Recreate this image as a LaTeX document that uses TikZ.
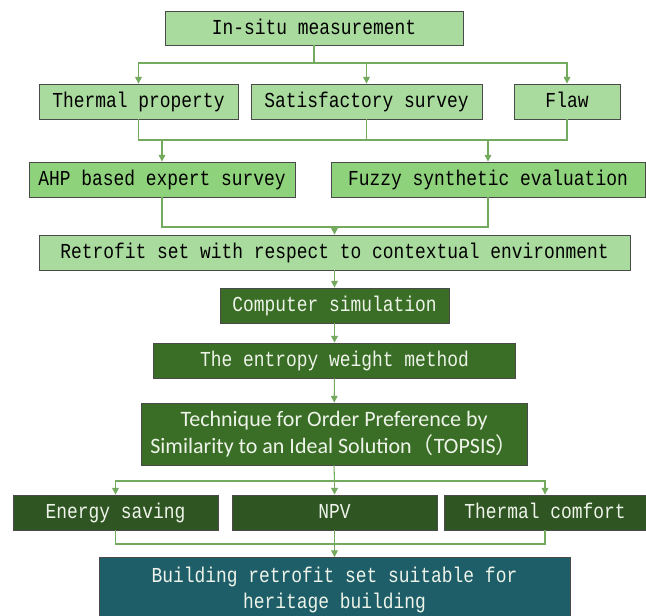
\documentclass[tikz,border=0pt]{standalone}
\usepackage{fontspec}
\newfontfamily\boxfont{Liberation Mono}[FakeStretch=0.84]
\newfontfamily\calfont{Carlito}
\newfontfamily\cjk{Noto Sans CJK SC}
\usetikzlibrary{arrows.meta}

\definecolor{flowPale}{HTML}{AADB9E}
\definecolor{flowLeaf}{HTML}{8FD27C}
\definecolor{flowMoss}{HTML}{3A6E26}
\definecolor{flowDeep}{HTML}{2F5522}
\definecolor{flowTeal}{HTML}{1E5E68}
\definecolor{flowLine}{HTML}{74AA5E}
\definecolor{flowEdge}{HTML}{4A4A4A}
\definecolor{flowInk}{HTML}{EEF4EA}

\begin{document}
\begin{tikzpicture}[x=0.75pt,y=-0.75pt,
  box/.style={draw=flowEdge,line width=0.6pt,inner sep=0pt,align=center,
    minimum height=26.25pt,font=\boxfont\fontsize{16pt}{19.5pt}\selectfont},
  one/.style={box,text height=11.5pt,text depth=2.5pt},
  pale/.style={one,fill=flowPale},
  leaf/.style={one,fill=flowLeaf},
  moss/.style={one,fill=flowMoss,text=flowInk},
  deep/.style={one,fill=flowDeep,text=flowInk},
  link/.style={draw=flowLine,line width=0.8pt},
  arr/.style={link,-{Triangle[width=5pt,length=5pt]}}]

  \useasboundingbox (0,0) rectangle (646,615);

  % Measurement stage
  \node[pale,minimum width=223.5pt,minimum height=25.5pt] (ins) at (314,28) {In-situ measurement};

  \node[pale,minimum width=149.25pt] (thp) at (138.5,101.5) {Thermal property};
  \node[pale,minimum width=173.25pt] (sat) at (366.5,101.5) {Satisfactory survey};
  \node[pale,minimum width=79.5pt] (flaw) at (567,101.5) {Flaw};

  % Evaluation methods
  \node[leaf,minimum width=199.5pt] (ahp) at (162,179.5) {AHP based expert survey};
  \node[leaf,minimum width=235.5pt] (fse) at (488,179.5) {Fuzzy synthetic evaluation};

  \node[pale,minimum width=443.25pt] (ret) at (334.5,252.5)
    {Retrofit set with respect to contextual environment};

  % Simulation and ranking
  \node[moss,minimum width=171.75pt] (sim) at (334.5,305.5) {Computer simulation};
  \node[moss,minimum width=271.5pt] (ewm) at (334.5,360.5) {The entropy weight method};
  \node[box,fill=flowMoss,text=flowInk,minimum width=289.5pt,minimum height=46.5pt,
    font=\calfont\fontsize{16.5pt}{20pt}\selectfont] (top) at (334,434)
    {Technique for Order Preference by\\
     Similarity to an Ideal Solution{\cjk （}TOPSIS{\cjk ）}};

  % Criteria
  \node[deep,minimum width=153.75pt] (esv) at (115.5,512.5) {Energy saving};
  \node[deep,minimum width=153.75pt] (npv) at (334.5,512.5) {NPV};
  \node[deep,minimum width=151.5pt] (thc) at (545,512.5) {Thermal comfort};

  \node[box,fill=flowTeal,text=flowInk,minimum width=353.25pt,minimum height=48.75pt]
    (fin) at (334.5,590) {Building retrofit set suitable for\\heritage building};

  % Connectors
  \coordinate (j1) at (314,63);
  \draw[link] (ins.south) -- (j1);
  \draw[arr] (j1) -| (thp.north);
  \draw[arr] (j1) -| (sat.north);
  \draw[arr] (j1) -| (flaw.north);

  \coordinate (j2) at (366.5,140);
  \draw[link] (thp.south) |- (j2) -| (flaw.south);
  \draw[link] (sat.south) -- (j2);
  \draw[arr] (ahp.north |- j2) -- (ahp.north);
  \draw[arr] (fse.north |- j2) -- (fse.north);

  \coordinate (j3) at (334.5,227);
  \draw[link] (ahp.south) |- (j3) -| (fse.south);
  \draw[arr] (j3) -- (ret.north);

  \draw[arr] (ret) -- (sim);
  \draw[arr] (sim) -- (ewm);
  \draw[arr] (ewm) -- (top);

  \coordinate (j4) at (334.5,481);
  \draw[link] (top.south) -- (j4);
  \draw[arr] (j4) -| (esv.north);
  \draw[arr] (j4) -- (npv.north);
  \draw[arr] (j4) -| (thc.north);

  \coordinate (j5) at (334.5,544);
  \draw[link] (esv.south) |- (j5) -| (thc.south);
  \draw[arr] (npv.south) -- (fin.north);

\end{tikzpicture}
\end{document}
